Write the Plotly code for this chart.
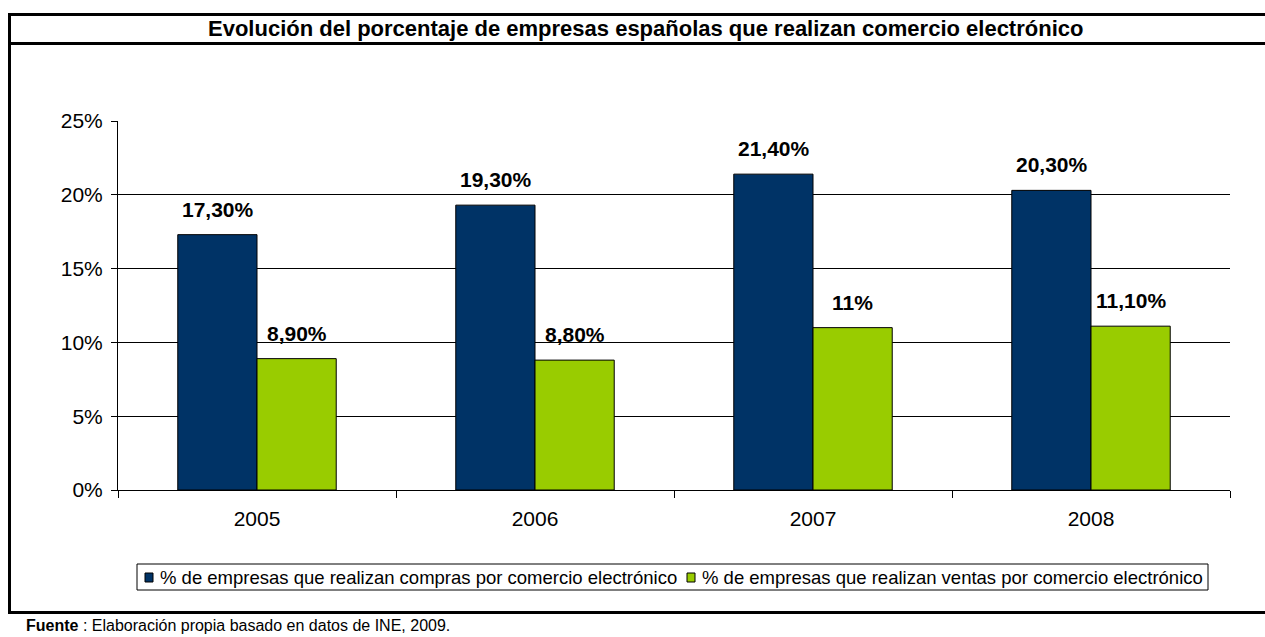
import plotly.graph_objects as go

years = ["2005", "2006", "2007", "2008"]
compras = [17.3, 19.3, 21.4, 20.3]
ventas = [8.9, 8.8, 11.0, 11.1]
compras_labels = ["17,30%", "19,30%", "21,40%", "20,30%"]
ventas_labels = ["8,90%", "8,80%", "11%", "11,10%"]
series_names = ["% de empresas que realizan compras por comercio electrónico",
                "% de empresas que realizan ventas por comercio electrónico"]
series_colors = ["#003366", "#99CC00"]
title_text = "Evolución del porcentaje de empresas españolas que realizan comercio electrónico"
source_text = "<b>Fuente</b> : Elaboración propia basado en datos de INE, 2009."

W, H = 1265, 637
L, R, T, B = 118, 35, 121, 147
PW, PH = W - L - R, H - T - B


def px(x):
    return (x - L) / PW


def py(y):
    return (H - B - y) / PH


FONT = "Liberation Sans, Arial, sans-serif"

fig = go.Figure()
for vals, name, color in zip([compras, ventas], series_names, series_colors):
    fig.add_trace(go.Bar(x=years, y=vals, name=name,
                         marker=dict(color=color, line=dict(color="#000000", width=1)),
                         showlegend=False))

annotations = []
for vals, labels, shift in [(compras, compras_labels, -39.5), (ventas, ventas_labels, 39.5)]:
    for i, (v, lab) in enumerate(zip(vals, labels)):
        annotations.append(dict(x=i, y=v, xref="x", yref="y", text=f"<b>{lab}</b>",
                                showarrow=False, xshift=shift, yshift=12, yanchor="bottom",
                                font=dict(family=FONT, size=21, color="#000000")))

# title
annotations.append(dict(x=px(645), y=py(29), xref="paper", yref="paper",
                        text=f"<b>{title_text}</b>", showarrow=False,
                        xanchor="center", yanchor="middle",
                        font=dict(family=FONT, size=22, color="#000000")))
# source
annotations.append(dict(x=px(24), y=py(625), xref="paper", yref="paper",
                        text=source_text, showarrow=False,
                        xanchor="left", yanchor="middle",
                        font=dict(family=FONT, size=16, color="#000000")))

shapes = []
# outer frame lines
shapes.append(dict(type="line", xref="paper", yref="paper", x0=px(8), x1=px(1270),
                   y0=py(14.5), y1=py(14.5), line=dict(color="#000000", width=3)))
shapes.append(dict(type="line", xref="paper", yref="paper", x0=px(8), x1=px(1270),
                   y0=py(43.5), y1=py(43.5), line=dict(color="#000000", width=3)))
shapes.append(dict(type="line", xref="paper", yref="paper", x0=px(9.5), x1=px(9.5),
                   y0=py(13), y1=py(614), line=dict(color="#000000", width=3)))
shapes.append(dict(type="line", xref="paper", yref="paper", x0=px(8), x1=px(1270),
                   y0=py(612.5), y1=py(612.5), line=dict(color="#000000", width=3)))

# legend box
shapes.append(dict(type="rect", xref="paper", yref="paper", x0=px(137), x1=px(1208),
                   y0=py(590), y1=py(564), line=dict(color="#000000", width=1),
                   fillcolor="rgba(0,0,0,0)"))
leg_x = [145, 687]
for lx, name, color in zip(leg_x, series_names, series_colors):
    shapes.append(dict(type="rect", xref="paper", yref="paper", x0=px(lx), x1=px(lx + 8),
                       y0=py(582), y1=py(573), line=dict(color="#000000", width=1),
                       fillcolor=color))
    annotations.append(dict(x=px(lx + 13), y=py(577.5), xref="paper", yref="paper",
                            text=name, showarrow=False, xanchor="left", yanchor="middle",
                            font=dict(family=FONT, size=18.5, color="#000000")))

fig.update_layout(
    width=W, height=H,
    margin=dict(l=L, r=R, t=T, b=B),
    paper_bgcolor="#FFFFFF", plot_bgcolor="#FFFFFF",
    barmode="group", bargap=0.43, bargroupgap=0,
    showlegend=False,
    font=dict(family=FONT, color="#000000"),
    annotations=annotations,
    shapes=shapes,
)
fig.update_xaxes(type="category", range=[-0.5, len(years) - 0.5], autorange=False,
                 showline=True, linecolor="#000000", linewidth=1,
                 ticks="outside", tickson="boundaries", ticklen=7, tickcolor="#000000",
                 showgrid=False, tickfont=dict(family=FONT, size=21, color="#000000"),
                 ticklabelstandoff=10)
fig.update_yaxes(range=[0, 25], autorange=False, dtick=5, ticksuffix="%", showline=True,
                 linecolor="#000000", linewidth=1, ticks="outside", ticklen=6,
                 tickcolor="#000000", showgrid=True, gridcolor="#000000", gridwidth=1,
                 zeroline=False, tickfont=dict(family=FONT, size=21, color="#000000"),
                 ticklabelstandoff=4)

fig.write_html("out.html", config={"displayModeBar": False},
               post_script="document.body.style.margin='0';document.body.style.overflow='hidden';")
